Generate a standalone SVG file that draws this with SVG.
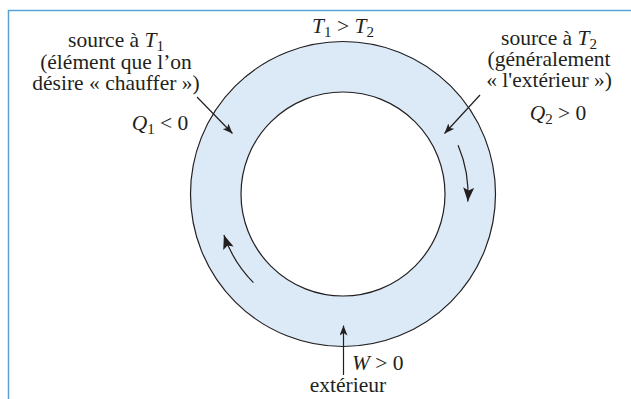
<svg xmlns="http://www.w3.org/2000/svg" width="631" height="399" viewBox="0 0 631 399">
<style>
text{font-family:"Liberation Serif","Times New Roman",serif;font-size:21.5px;fill:#231f20}
.i{font-style:italic}
.s{font-size:15px}
.c{stroke:#231f20;stroke-width:1.2;fill:none}
</style>
<defs>
<marker id="ah" viewBox="0 0 10 8" refX="10" refY="4" markerWidth="10" markerHeight="8" markerUnits="userSpaceOnUse" orient="auto"><path d="M0,0 L10,4 L0,8 L2.5,4 Z" fill="#231f20"/></marker>
<marker id="ahb" viewBox="0 0 14 11" refX="14" refY="5.5" markerWidth="14" markerHeight="11" markerUnits="userSpaceOnUse" orient="auto"><path d="M0,0 L14,5.5 L0,11 L3,5.5 Z" fill="#231f20"/></marker>
</defs>
<rect width="631" height="399" fill="#fff"/>
<path d="M8.5,399 V10.5 H631" fill="none" stroke="#5aa2d6" stroke-width="1.5"/>
<g id="ring">
<path d="M343,41.5 a152.5,152.5 0 1,0 0.01,0 Z M343,92 a102,102 0 1,1 -0.01,0 Z" fill="#dce9f6" fill-rule="evenodd"/>
<circle cx="343" cy="194" r="152.5" class="c"/>
<circle cx="343" cy="194" r="102" class="c"/>
</g>
<g id="connectors">
<line x1="197" y1="97" x2="232.5" y2="133.5" class="c" marker-end="url(#ah)"/>
<line x1="480" y1="95" x2="444.5" y2="133.5" class="c" marker-end="url(#ah)"/>
<line x1="343.5" y1="375" x2="343.5" y2="325.5" class="c" marker-end="url(#ah)"/>
<path d="M458.1,145.2 A125,125 0 0,1 467.8,201.6" class="c" marker-end="url(#ahb)"/>
<path d="M253.4,282.6 A126,126 0 0,1 223.9,235" class="c" marker-end="url(#ahb)"/>
</g>
<g id="source-t1">
<text x="116" y="47" text-anchor="middle">source à <tspan class="i">T</tspan><tspan class="s" dy="4">1</tspan></text>
<text x="116" y="68.5" text-anchor="middle">(élément que l’on</text>
<text x="116" y="89.5" text-anchor="middle">désire « chauffer »)</text>
</g>
<g id="q1">
<text x="160" y="130" text-anchor="middle"><tspan class="i">Q</tspan><tspan class="s" dy="4">1</tspan><tspan dy="-4"> &lt; 0</tspan></text>
</g>
<g id="t1t2">
<text x="343" y="33" text-anchor="middle"><tspan class="i">T</tspan><tspan class="s" dy="4">1</tspan><tspan dy="-4"> &gt; </tspan><tspan class="i">T</tspan><tspan class="s" dy="4">2</tspan></text>
</g>
<g id="source-t2">
<text x="549" y="45" text-anchor="middle">source à <tspan class="i">T</tspan><tspan class="s" dy="4">2</tspan></text>
<text x="549" y="66" text-anchor="middle">(généralement</text>
<text x="549" y="87" text-anchor="middle">« l'extérieur »)</text>
</g>
<g id="q2">
<text x="558" y="120" text-anchor="middle"><tspan class="i">Q</tspan><tspan class="s" dy="4">2</tspan><tspan dy="-4"> &gt; 0</tspan></text>
</g>
<g id="work">
<text x="352" y="370"><tspan class="i">W</tspan> &gt; 0</text>
<text x="348" y="392" text-anchor="middle">extérieur</text>
</g>
</svg>
